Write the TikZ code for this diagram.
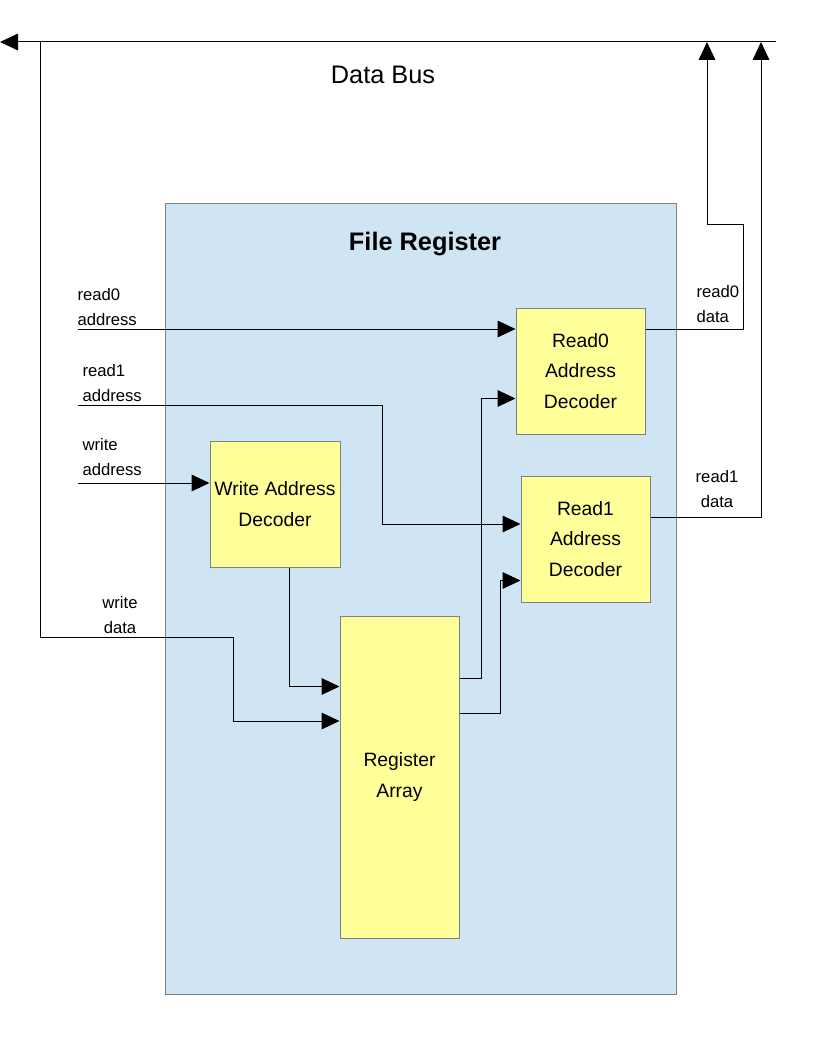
\documentclass[tikz,border=0pt]{standalone}
\usepackage{fontspec}
\setmainfont{Liberation Sans}
\usetikzlibrary{arrows.meta}
\definecolor{regblue}{RGB}{207,229,243}
\definecolor{blockyellow}{RGB}{255,255,153}
\tikzset{
	arr/.style={-{Triangle[length=13.5pt, width=12.5pt]}},
	block/.style={draw=black!50, fill=blockyellow, align=center, inner sep=0pt,
		font=\fontsize{14.5}{23}\selectfont},
	sig/.style={inner sep=0pt, font=\fontsize{12.5}{19}\selectfont}
}
\begin{document}
\begin{tikzpicture}[x=0.75pt, y=-0.75pt, line width=0.75pt]
	\useasboundingbox (0,0) rectangle (816,1056);
	\node[draw=black!50, fill=regblue, minimum width=383.25pt, minimum height=593.25pt] (fr) at (420.5,598.5) {};
	\node[font=\fontsize{19}{23}\selectfont\bfseries] (frlabel) at (425,244) {File Register};
	\node[block, minimum width=96.75pt, minimum height=94.5pt] (rd0) at (580.5,371) {Read0\\Address\\Decoder};
	\node[block, minimum width=96.75pt, minimum height=94.5pt] (rd1) at (585.5,539) {Read1\\Address\\Decoder};
	\node[block, minimum width=97.5pt, minimum height=94.5pt] (wad) at (275,504) {Write Address\\Decoder};
	\node[block, minimum width=89.25pt, minimum height=241.5pt] (reg) at (399.5,777) {Register\\Array};
	\coordinate (bus w) at (0,42);
	\coordinate (bus e) at (776,42);
	\draw[arr] (bus e) -- (bus w);
	\node[font=\fontsize{19}{23}\selectfont] (buslabel) at (383,75) {Data Bus};
	\coordinate (r0a) at (78,329);
	\coordinate (r1a) at (78,405);
	\coordinate (r1bend) at (382,524);
	\coordinate (wa) at (78,483);
	\coordinate (wd) at (40,42);
	\coordinate (wdturn) at (40,637);
	\coordinate (wdbend) at (233,721);
	\coordinate (r0top) at (707,42);
	\coordinate (r1top) at (761,42);
	\node[sig, anchor=south west, align=left] (r0alabel) at (77,326) {read0\\address};
	\node[sig, anchor=south west, align=left] (r1alabel) at (82,402) {read1\\address};
	\node[sig, anchor=south west, align=left] (walabel) at (82,476) {write\\address};
	\node[sig, anchor=south, align=center] (wdlabel) at (120,634) {write\\data};
	\node[sig, anchor=south west, align=left] (r0dlabel) at (696,323) {read0\\data};
	\node[sig, anchor=south, align=center] (r1dlabel) at (717,508) {read1\\data};
	\draw[arr] (r0a) -- (rd0.west |- r0a);
	\draw[arr] (r1a) -| (r1bend) -- (rd1.west |- r1bend);
	\draw[arr] (wa) -- (wad.west |- wa);
	\draw[arr] (wd) -- (wdturn) -| (wdbend) -- (reg.west |- wdbend);
	\draw[arr] ([xshift=10.5pt]wad.south) |- ([yshift=-53.25pt]reg.north west);
	\draw[arr] ([yshift=-47.25pt]reg.north east) -- ++(22,0) |- ([yshift=-68.25pt]rd0.north west);
	\draw[arr] ([yshift=-73.5pt]reg.north east) -- ++(41,0) |- ([yshift=-78.75pt]rd1.north west);
	\draw[arr] (rd0.east |- r0a) -| (743,224) -| (r0top);
	\draw[arr] ([yshift=-31.5pt]rd1.north east) -| (r1top);
\end{tikzpicture}
\end{document}
